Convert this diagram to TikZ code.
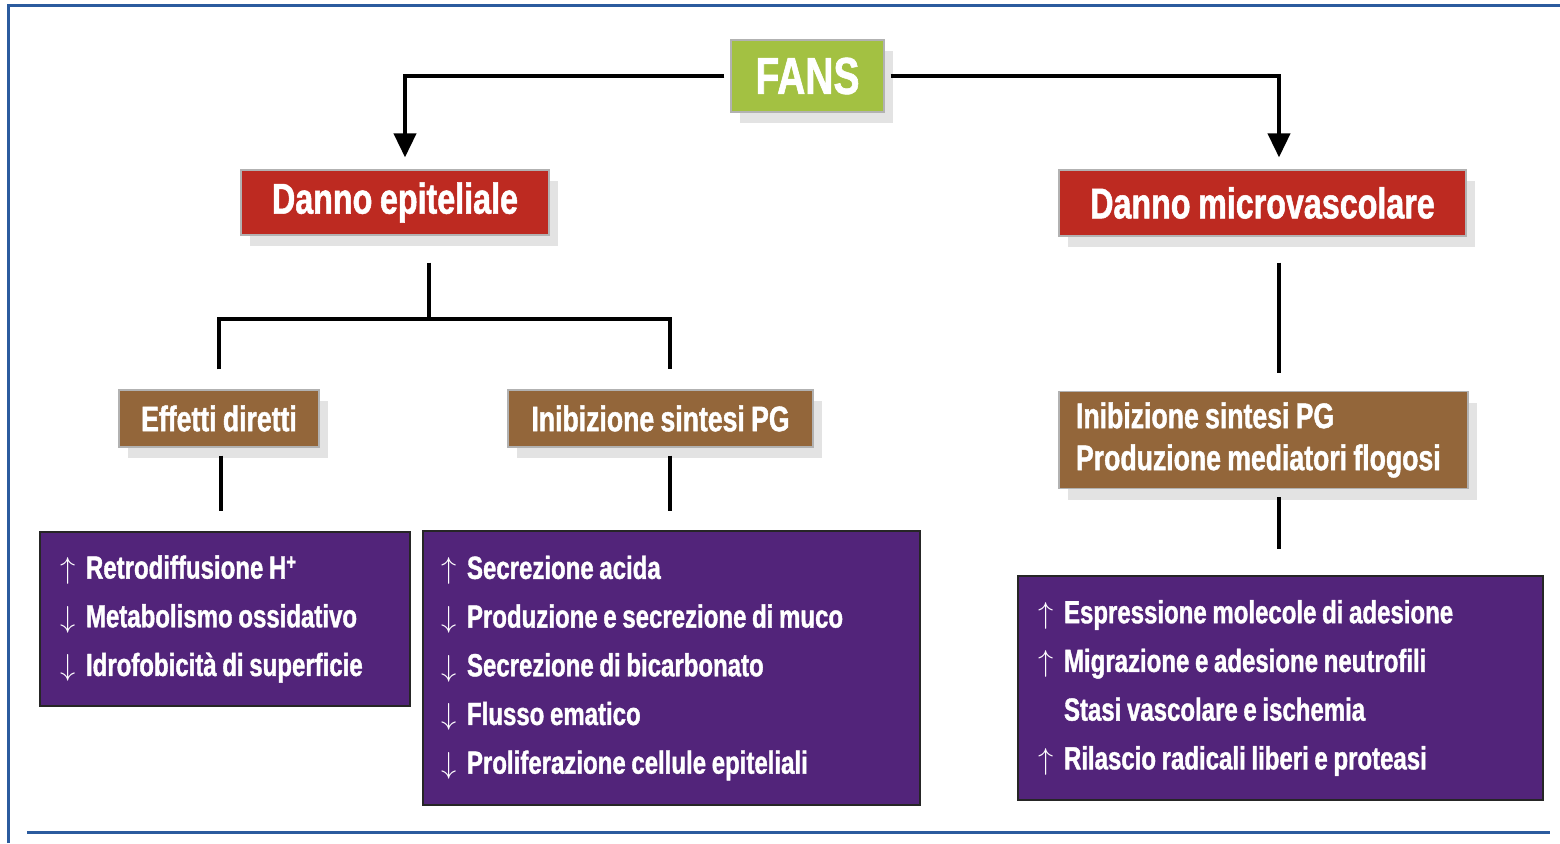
\documentclass[tikz,border=0pt]{standalone}
\usepackage{fontspec}
\setmainfont{Liberation Sans}[UprightFont=* Bold, BoldFont=* Bold, FakeStretch=0.75, FakeBold=1.2, WordSpace=0.85]
\usetikzlibrary{arrows.meta}
\usetikzlibrary{shadows}

\definecolor{fansgreen}{HTML}{A3C142}
\definecolor{dannored}{HTML}{BD2A21}
\definecolor{effbrown}{HTML}{93663A}
\definecolor{listpurple}{HTML}{52247A}
\definecolor{framblue}{HTML}{2B5B9E}

\newcommand\upar{\makebox[26pt][l]{\resizebox*{!}{27pt}{$\uparrow$}}}
\newcommand\dnar{\makebox[26pt][l]{\resizebox*{!}{27pt}{$\downarrow$}}}
\newcommand\noar{\hspace*{26pt}}

\tikzset{
  box/.style={draw=gray!60, line width=1.2pt, text=white, inner sep=0pt,
    drop shadow={shadow xshift=9pt, shadow yshift=-11pt, fill=gray, opacity=0.22}},
  fansbox/.style={box, fill=fansgreen, font=\fontsize{52}{60}\selectfont},
  dannobox/.style={box, fill=dannored, font=\fontsize{43}{50}\selectfont},
  effbox/.style={box, fill=effbrown, font=\fontsize{35.5}{42}\selectfont},
  listbox/.style={draw=black!85, line width=2pt, fill=listpurple, text=white,
    inner xsep=0pt, align=flush left, font=\fontsize{32}{48.7}\selectfont},
  conn/.style={line width=4pt, black},
  arr/.style={conn, -{Triangle[width=22pt,length=24pt]}},
  frame/.style={line width=3pt, framblue}
}

\begin{document}
\begin{tikzpicture}[x=1pt,y=-1pt]
  \useasboundingbox (0,0) rectangle (1560,843);
  \draw[frame] (8,843) -- (8,6) -- (1560,6);
  \draw[frame] (27,832) -- (1550,832);

  \node[fansbox, minimum width=153pt, minimum height=72pt] (fans) at (807.5,76) {FANS};
  \node[dannobox, minimum width=308pt, minimum height=65pt] (depi) at (395,202.5) {Danno epiteliale};
  \node[dannobox, minimum width=407pt, minimum height=66pt] (dmicro) at (1262.5,203) {Danno microvascolare};

  \node[effbox, minimum width=200pt, minimum height=57pt] (effdir) at (219,418.5) {Effetti diretti};
  \node[effbox, minimum width=305pt, minimum height=57pt] (inpg) at (660.5,418.5) {Inibizione sintesi PG};
  \node[effbox, minimum width=409pt, minimum height=97pt, inner xsep=17pt,
        text width=375pt, align=flush left] (inpgmed) at (1263.5,440)
        {Inibizione sintesi PG\\Produzione mediatori flogosi};

  \node[listbox, minimum width=370pt, minimum height=174pt, text width=330pt] (listdir) at (225,619)
    {\upar Retrodiffusione H\textsuperscript{+}\\
     \dnar Metabolismo ossidativo\\
     \dnar Idrofobicità di superficie};
  \node[listbox, minimum width=497pt, minimum height=274pt, text width=461pt] (listpg) at (671.5,668)
    {\upar Secrezione acida\\
     \dnar Produzione e secrezione di muco\\
     \dnar Secrezione di bicarbonato\\
     \dnar Flusso ematico\\
     \dnar Proliferazione cellule epiteliali};
  \node[listbox, minimum width=525pt, minimum height=224pt, text width=485pt] (listmed) at (1280.5,688)
    {\upar Espressione molecole di adesione\\
     \upar Migrazione e adesione neutrofili\\
     \noar Stasi vascolare e ischemia\\
     \upar Rilascio radicali liberi e proteasi};

  % FANS to the two kinds of damage
  \draw[arr, shorten <=6pt, shorten >=12pt] (fans.west) -| ([xshift=10pt]depi.north);
  \draw[arr, shorten <=6pt, shorten >=12pt] (fans.east) -| ([xshift=16.5pt]dmicro.north);

  % epithelial branch
  \draw[conn, shorten <=27pt] ([xshift=34pt]depi.south) -- ++(0,83) coordinate (splitL);
  \draw[conn, shorten <=20pt, shorten >=20pt] (effdir.north) |- (splitL) -| ([xshift=9.5pt]inpg.north);
  \draw[conn, shorten <=8pt, shorten >=20pt] ([xshift=2pt]effdir.south) -- ([xshift=2pt]effdir.south |- listdir.north);
  \draw[conn, shorten <=8pt, shorten >=19pt] ([xshift=9.5pt]inpg.south) -- ([xshift=9.5pt]inpg.south |- listpg.north);

  % microvascular branch
  \draw[conn, shorten <=26pt, shorten >=18pt] ([xshift=16.5pt]dmicro.south) -- ([xshift=16.5pt]dmicro.south |- inpgmed.north);
  \draw[conn, shorten <=8pt, shorten >=26pt] ([xshift=15.5pt]inpgmed.south) -- ([xshift=15.5pt]inpgmed.south |- listmed.north);
\end{tikzpicture}
\end{document}
